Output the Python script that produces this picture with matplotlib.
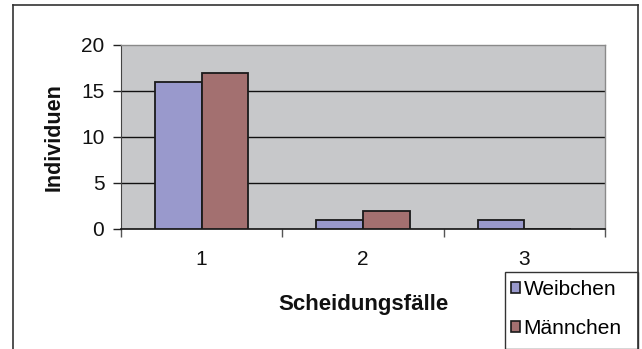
import matplotlib
matplotlib.use("Agg")
import matplotlib.pyplot as plt
import numpy as np
from matplotlib.patches import Rectangle
from matplotlib.lines import Line2D

plt.rcParams['font.family'] = ['Liberation Sans', 'DejaVu Sans']

categories = ["1", "2", "3"]
weibchen = [16, 1, 1]
maennchen = [17, 2, 0]
series_names = ["Weibchen", "Männchen"]
y_ticks = [0, 5, 10, 15, 20]

col_w = "#9999CC"
col_m = "#A37070"
bg = "#C7C8CA"

W, H = 642, 349
fig = plt.figure(figsize=(W / 100, H / 100), dpi=100)
ax = fig.add_axes([121 / W, 1 - 229 / H, (605 - 121) / W, (229 - 45) / H])
ax.set_facecolor(bg)

x = np.arange(len(categories))
bw = 0.29
ax.bar(x - bw / 2, weibchen, bw, color=col_w, edgecolor="#1a1a1a", linewidth=1.3, zorder=3)
ax.bar(x + bw / 2, maennchen, bw, color=col_m, edgecolor="#1a1a1a", linewidth=1.3, zorder=3)

ax.set_xlim(-0.5, len(categories) - 0.5)
ax.set_ylim(0, 20)
ax.set_yticks(y_ticks)
ax.set_yticklabels([str(v) for v in y_ticks], fontsize=15, color="#111111")
for v in y_ticks[1:-1]:
    ax.axhline(v, color="#111111", linewidth=1.0, zorder=1)

ax.set_xticks(x)
ax.set_xticklabels(categories, fontsize=15, color="#111111")
ax.tick_params(axis="x", length=0, pad=15)
ax.set_xticks(np.arange(len(categories) + 1) - 0.5, minor=True)
ax.tick_params(axis="x", which="minor", length=6, color="#555555", width=1)
ax.tick_params(axis="y", length=6, color="#222222", width=1, pad=6)

for s in ["top", "right"]:
    ax.spines[s].set_color("#8a8a8a")
    ax.spines[s].set_linewidth(1)
ax.spines["left"].set_color("#444444")
ax.spines["bottom"].set_color("#111111")
ax.spines["bottom"].set_linewidth(1.2)

ax.set_xlabel("Scheidungsfälle", fontsize=16, fontweight="bold", labelpad=18, color="#111111")
ax.set_ylabel("Individuen", fontsize=15.5, fontweight="bold", labelpad=12, color="#111111")

# outer chart frame
fx = lambda px: px / W
fy = lambda py: 1 - py / H
fig.add_artist(Line2D([fx(13), fx(13)], [fy(5), fy(349)], color="#333333", lw=1.2))
fig.add_artist(Line2D([fx(13), fx(638)], [fy(5), fy(5)], color="#333333", lw=1.2))
fig.add_artist(Line2D([fx(638), fx(638)], [fy(5), fy(349)], color="#333333", lw=1.2))

# legend box
fig.add_artist(Rectangle((fx(505), fy(349)), fx(638) - fx(505), fy(272) - fy(349),
                         transform=fig.transFigure, facecolor="white", edgecolor="#333333", lw=1.0))
handles = [Rectangle((0, 0), 1, 1, facecolor=col_w, edgecolor="#1a1a1a", lw=1.2),
           Rectangle((0, 0), 1, 1, facecolor=col_m, edgecolor="#1a1a1a", lw=1.2)]
fig.legend(handles, series_names, loc="upper left", bbox_to_anchor=(fx(511), fy(280)),
           frameon=False, fontsize=15, handlelength=0.45, handleheight=0.45,
           handletextpad=0.15, labelspacing=0.95, borderpad=0.0, borderaxespad=0)

fig.savefig("out.png", dpi=100, facecolor="white")
